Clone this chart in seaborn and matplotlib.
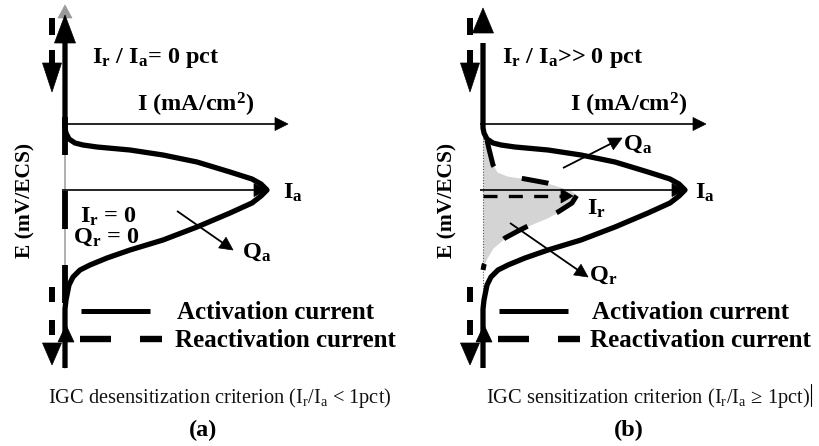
import numpy as np
import matplotlib
matplotlib.use("Agg")
import matplotlib.pyplot as plt
from matplotlib.patches import Polygon
import seaborn as sns

sns.set_theme(style="white")
plt.rcParams.update({
    "font.family": ["Liberation Serif", "DejaVu Serif"],
    "mathtext.fontset": "custom",
    "mathtext.rm": "Liberation Serif",
    "mathtext.bf": "Liberation Serif:bold",
    "mathtext.it": "Liberation Serif:italic",
})

# Activation scan (bottom -> top): current to the right of the E axis, potential offset downward
act_current = [0, 0, 1, 2, 4, 8, 15, 25, 42, 65, 98, 132, 165, 187, 196,
               202, 196, 187, 165, 132, 98, 65, 32, 18, 10, 4, 1, 0, 0]
act_potential = [244, 185, 176, 171, 161, 153, 146, 141, 134, 126, 116, 103, 89, 79, 72,
                 66, 60, 55, 48, 38, 31, 26, 23, 21, 19, 15, 9, 4, -81]

# Reactivation scan, desensitized case: no current at all
react_a_current = [0, 0]
react_a_potential = [-7, 181]

# Reactivation scan, sensitized case
react_b_current = [0, 2, 4, 6, 10, 14, 24, 37, 64, 77, 87, 94, 89, 75, 64, 47, 35, 22, 10, 4, 1, 0]
react_b_potential = [-1, 8, 16, 25, 41, 48, 52, 54, 59, 63, 66, 71, 79, 88, 94, 101, 107, 114,
                     124, 134, 141, 146]

peak_ia_potential = 66
peak_ir_potential = 72
peak_ir_current = 90

ratio_labels = [r"$\mathbf{I}_\mathbf{r}$ / $\mathbf{I}_\mathbf{a}$= 0 pct",
                r"$\mathbf{I}_\mathbf{r}$ / $\mathbf{I}_\mathbf{a}$>> 0 pct"]
captions = [r"IGC desensitization criterion ($\mathrm{I}_\mathrm{r}$/$\mathrm{I}_\mathrm{a}$ < 1pct)",
            r"IGC sensitization criterion ($\mathrm{I}_\mathrm{r}$/$\mathrm{I}_\mathrm{a}$ ≥ 1pct)"]
panel_tags = ["(a)", "(b)"]

W, H = 819, 446
fig = plt.figure(figsize=(W / 100, H / 100), dpi=100)
ax = fig.add_axes([0, 0, 1, 1])
ax.set_xlim(0, W)
ax.set_ylim(H, 0)
ax.axis("off")

BOLD = dict(fontweight="bold", color="black")
PT = 0.72  # points per pixel at 100 dpi
FS = 17.5


def head(tip, base, hw, color="black", z=5):
    tip = np.asarray(tip, float)
    base = np.asarray(base, float)
    u = (tip - base) / np.linalg.norm(tip - base)
    n = np.array([-u[1], u[0]])
    ax.add_patch(Polygon([tip, base + n * hw, base - n * hw], closed=True,
                         facecolor=color, edgecolor=color, lw=0.5, zorder=z))


def arrow(x1, y1, x2, y2, lw=1.2, hl=13, hw=6.5, color="black", ls="-", z=4):
    tip = np.array([x2, y2], float)
    start = np.array([x1, y1], float)
    u = (tip - start) / np.linalg.norm(tip - start)
    base = tip - u * hl
    ax.plot([start[0], base[0] + u[0] * 2], [start[1], base[1] + u[1] * 2],
            color=color, lw=lw, ls=ls, solid_capstyle="butt", zorder=z)
    head(tip, base, hw, color, z + 1)


def dash_px(on, off, lw, offset=0):
    s = PT / lw
    return (offset * s, (on * s, off * s))


def label(x, y, s, size=FS, **kw):
    ax.text(x, y, s, fontsize=size, ha="left", va="baseline", **BOLD, **kw)


panels = [
    dict(x0=65, y0=124, tip=15, base=43, axis_tip=5, axis_ls="-"),
    dict(x0=483, y0=124, tip=8, base=33, axis_tip=8, axis_ls=":"),
]

for k, p in enumerate(panels):
    x0, y0 = p["x0"], p["y0"]

    # E axis (thin) with its arrow
    if p["axis_ls"] == "-":
        ax.plot([x0, x0], [p["axis_tip"] + 10, 368], color="#9a9a9a", lw=1.1, zorder=1)
        head((x0, p["axis_tip"]), (x0, p["axis_tip"] + 13), 7, color="#9a9a9a", z=1)
    else:
        ax.plot([x0, x0], [y0, 290], color="#555555", lw=0.8, ls=(0, (1, 1.5)), zorder=1)

    # I axis
    arrow(x0 - 3, y0, x0 + 223, y0, lw=1.2, hl=13, hw=6.5)
    # Ia arrow to the activation peak
    arrow(x0 - 3, y0 + peak_ia_potential, x0 + max(act_current), y0 + peak_ia_potential,
          lw=1.2, hl=13, hw=6.5)

    # activation curve
    sns.lineplot(x=x0 + np.array(act_current), y=y0 + np.array(act_potential),
                 sort=False, estimator=None, ax=ax, color="black", lw=3.8,
                 solid_joinstyle="round", solid_capstyle="butt", zorder=3)
    head((x0, p["tip"]), (x0, p["base"]), 10.5)
    # upward scan arrow near the bottom of the axis
    head((x0 + 1, 325), (x0 + 1, 342), 8)

    # downward scan indicators for the reactivation sweep
    xl = x0 - 13
    ax.plot([xl, xl], [18, 63], color="black", lw=4.3, ls=dash_px(17, 15, 4.3), zorder=3)
    head((xl, 92), (xl, 63), 9.5)
    ax.plot([xl, xl], [287, 337], color="black", lw=4.3, ls=dash_px(15, 18, 4.3), zorder=3)
    head((xl, 365), (xl, 343), 9.5)

    # legend samples
    ax.plot([x0 + 16, x0 + 85], [311, 311], color="black", lw=3.6, solid_capstyle="butt")
    ax.plot([x0 + 15, x0 + 97], [339, 339], color="black", lw=4.6,
            ls=dash_px(31, 29, 4.6), dash_capstyle="butt")
    label([177, 592][k], 319, "Activation current", size=18)
    label([175, 590][k], 347, "Reactivation current", size=18)

    # labels
    label([92, 502][k], 63, ratio_labels[k])
    label([137, 570][k], 112, r"I (mA/cm$^\mathbf{2}$)")
    label(x0 + [218, 212][k], 199, r"$\mathbf{I}_\mathbf{a}$")
    ax.text([25, 447][k], 200, "E (mV/ECS)", fontsize=15.5, rotation=90, ha="center",
            va="center", **BOLD)
    ax.text([48, 486][k], 403, captions[k], fontsize=14.7, ha="left", va="baseline",
            color="#111111")
    ax.text([203, 629][k], 430, panel_tags[k], fontsize=17.5, ha="center", va="center",
            **BOLD)

# desensitized panel: reactivation current stays on the axis
pa = panels[0]
sns.lineplot(x=pa["x0"] + np.array(react_a_current), y=pa["y0"] + np.array(react_a_potential),
             sort=False, estimator=None, ax=ax, color="black", lw=4.2,
             linestyle=dash_px(38, 36, 4.2), dash_capstyle="butt", zorder=2)
label(80, 223, r"$\mathbf{I}_\mathbf{r}$ = 0")
label(73, 243, r"$\mathbf{Q}_\mathbf{r}$ = 0")
arrow(177, 211, 233, 250, lw=1.3, hl=13, hw=6.5)
label(242, 258, r"$\mathbf{Q}_\mathbf{a}$")

# sensitized panel: reactivation loop with its charge shaded
pb = panels[1]
rx = pb["x0"] + np.array(react_b_current)
ry = pb["y0"] + np.array(react_b_potential)
ax.fill_betweenx(ry, pb["x0"], rx, color="#d4d4d4", lw=0, zorder=0.5)
sns.lineplot(x=rx, y=ry, sort=False, estimator=None, ax=ax, color="black", lw=3.6,
             linestyle=dash_px(27, 32, 3.6, offset=41), dash_capstyle="butt", zorder=3)
arrow(pb["x0"], pb["y0"] + peak_ir_potential, pb["x0"] + peak_ir_current,
      pb["y0"] + peak_ir_potential, lw=2.4, hl=12, hw=7, ls=(0, (4.2, 3.4)))
label(587, 215, r"$\mathbf{I}_\mathbf{r}$")
arrow(563, 168, 622, 138, lw=1.3, hl=13, hw=6.5)
label(623, 150, r"$\mathbf{Q}_\mathbf{a}$")
arrow(510, 223, 588, 277, lw=1.3, hl=13, hw=6.5)
label(589, 281, r"$\mathbf{Q}_\mathbf{r}$")
ax.plot([811, 811], [384, 406], color="black", lw=0.8)

fig.savefig("out.png", dpi=100, facecolor="white")
